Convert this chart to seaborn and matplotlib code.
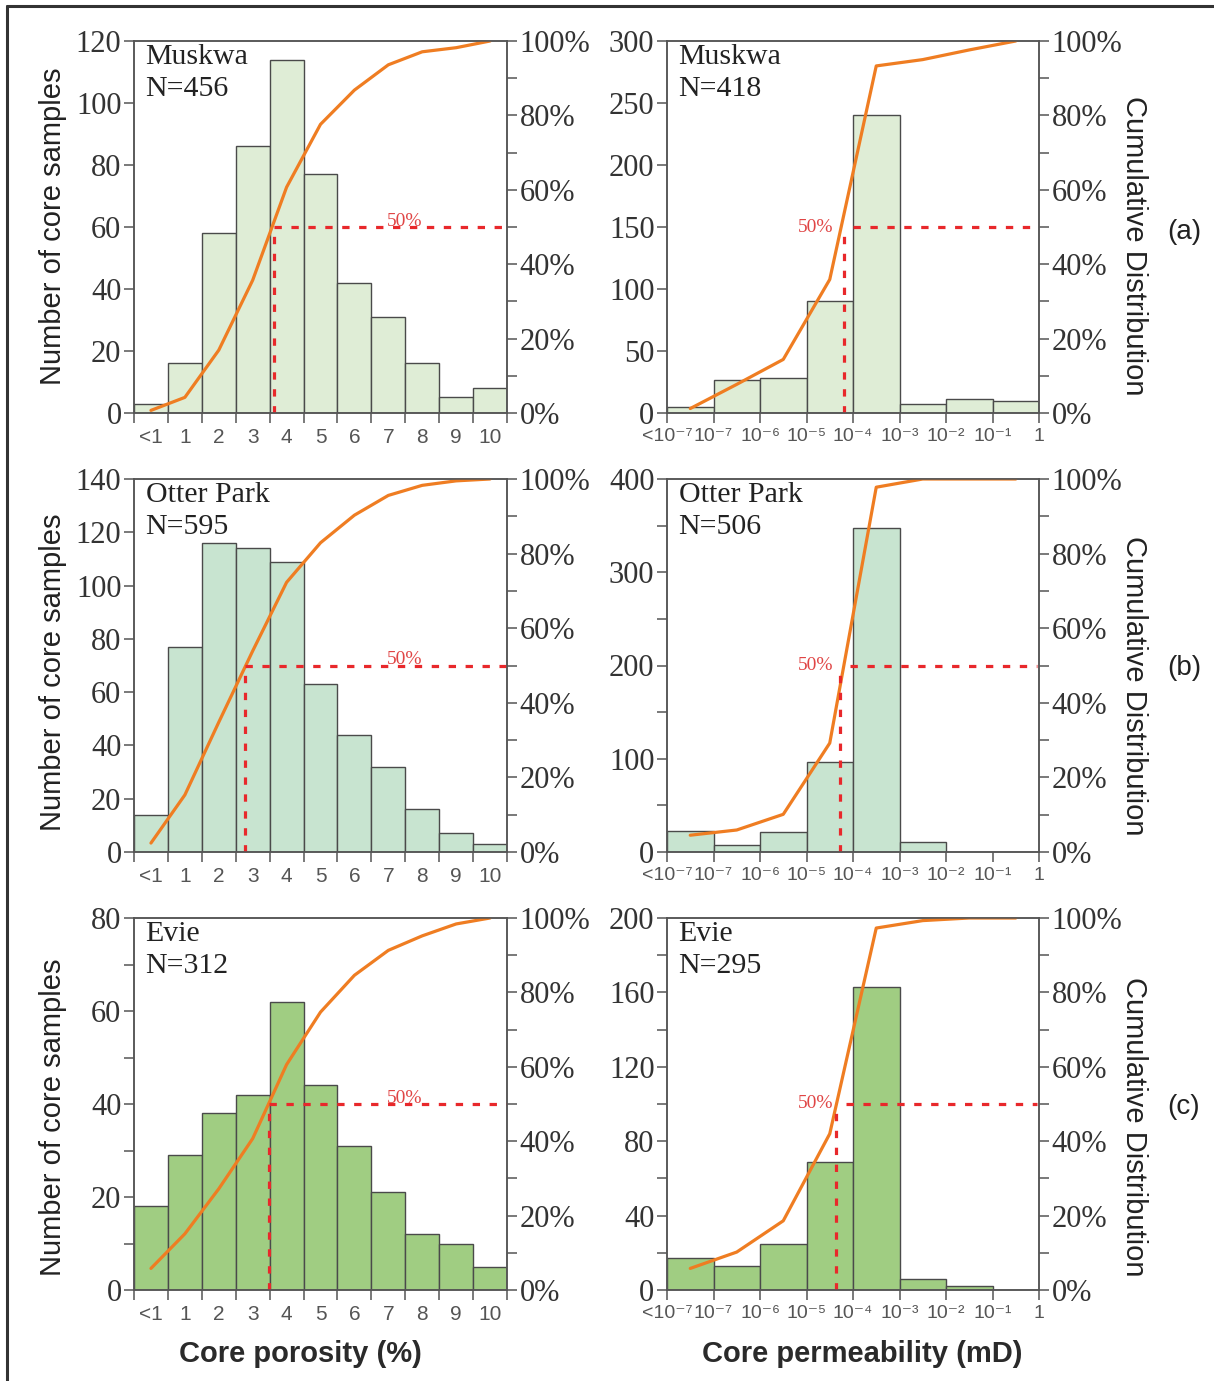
import numpy as np
import matplotlib
matplotlib.use("Agg")
import matplotlib.pyplot as plt
import seaborn as sns
from matplotlib.ticker import MultipleLocator, NullLocator, FuncFormatter
from matplotlib.lines import Line2D

# ---- data ----
por_labels = ["<1", "1", "2", "3", "4", "5", "6", "7", "8", "9", "10"]
perm_labels = ["<10⁻⁷", "10⁻⁷", "10⁻⁶", "10⁻⁵", "10⁻⁴",
               "10⁻³", "10⁻²", "10⁻¹", "1"]
perm_bins = perm_labels[:-1]

muskwa_por = [3, 16, 58, 86, 114, 77, 42, 31, 16, 5, 8]
otter_por = [14, 77, 116, 114, 109, 63, 44, 32, 16, 7, 3]
evie_por = [18, 29, 38, 42, 62, 44, 31, 21, 12, 10, 5]

muskwa_por_cum = [0.7, 4.2, 16.9, 35.7, 60.7, 77.6, 86.8, 93.6, 97.1, 98.2, 100]
otter_por_cum = [2.4, 15.3, 34.8, 53.9, 72.3, 82.9, 90.3, 95.6, 98.3, 99.5, 100]
evie_por_cum = [5.8, 15.1, 27.2, 40.7, 60.6, 74.7, 84.6, 91.3, 95.2, 98.4, 100]

muskwa_perm = [5, 27, 28, 90, 240, 7, 11, 10]
otter_perm = [23, 7, 21, 97, 347, 11, 0, 0]
evie_perm = [17, 13, 25, 69, 163, 6, 2, 0]

muskwa_perm_cum = [1.2, 7.7, 14.4, 35.9, 93.3, 95.0, 97.6, 100]
otter_perm_cum = [4.5, 5.9, 10.1, 29.2, 97.8, 100, 100, 100]
evie_perm_cum = [5.8, 10.2, 18.6, 42.0, 97.3, 99.3, 100, 100]

# 50% crossing positions (bin-index units)
muskwa_por_med = 3.62
otter_por_med = 2.78
evie_por_med = 3.49
muskwa_perm_med = 3.30
otter_perm_med = 3.23
evie_perm_med = 3.14

names = ["Muskwa", "Otter Park", "Evie"]
n_por = [456, 595, 312]
n_perm = [418, 506, 295]

BAR_COLORS = ["#dfedd6", "#c8e4d0", "#a0cd82"]
EDGE = "#4a4a4a"
ORANGE = "#ef7d22"
RED = "#e8282b"
SPINE = "#555555"

sns.set_theme(style="ticks")
plt.rcParams["font.family"] = ["Liberation Serif", "DejaVu Serif"]
sans = ["Liberation Sans", "DejaVu Sans"]

W, H = 1214, 1381
fig = plt.figure(figsize=(W / 100, H / 100), dpi=100)


def rect(x0, x1, y0, y1):
    return [x0 / W, 1 - y1 / H, (x1 - x0) / W, (y1 - y0) / H]


def draw_panel(r, cats, counts, cum, color, label, ymax, major, minor,
               med, kind):
    ax = fig.add_axes(r)
    n = len(cats)
    sns.barplot(x=cats, y=counts, ax=ax, color=color, saturation=1,
                edgecolor=EDGE, linewidth=1.0, width=1.0, errorbar=None)
    ax.set_xlabel("")
    ax.set_ylabel("")
    ax.set_ylim(0, ymax)
    ax.yaxis.set_major_locator(MultipleLocator(major))
    if minor:
        ax.yaxis.set_minor_locator(MultipleLocator(minor))
    else:
        ax.yaxis.set_minor_locator(NullLocator())

    edges = np.arange(n + 1) - 0.5
    if kind == "por":
        ax.set_xticks(edges, labels=[""] * (n + 1))
        ax.set_xticks(np.arange(n), labels=cats, minor=True)
        ax.tick_params(axis="x", which="minor", length=0, pad=11)
        xsize = 15
    else:
        ax.set_xticks(edges, labels=perm_labels)
        ax.tick_params(axis="x", which="major", pad=4)
        xsize = 14
    ax.tick_params(axis="both", which="both", direction="out", length=7,
                   width=1.1, color=SPINE)
    ax.tick_params(axis="x", which="minor", length=0)
    ax.tick_params(axis="x", which="both", labelsize=xsize,
                   labelcolor="#555555")
    for t in ax.get_xticklabels(which="both"):
        t.set_fontfamily(sans)
    ax.tick_params(axis="y", which="both", labelsize=22, labelcolor="#333333",
                   pad=2)

    ax2 = ax.twinx()
    sns.lineplot(x=np.arange(n), y=cum, ax=ax2, color=ORANGE, linewidth=2.3)
    ax2.set_ylim(0, 100)
    ax2.yaxis.set_major_locator(MultipleLocator(20))
    ax2.yaxis.set_minor_locator(MultipleLocator(10))
    ax2.yaxis.set_major_formatter(FuncFormatter(lambda v, p: f"{v:.0f}%"))
    ax2.tick_params(axis="y", which="both", direction="out", length=7,
                    width=1.1, color=SPINE, labelsize=22,
                    labelcolor="#333333", pad=2)
    ax2.set_ylabel("")
    ax.set_xlim(-0.5, n - 0.5)
    ax2.set_xlim(-0.5, n - 0.5)

    dash = dict(color=RED, lw=2.3, dashes=(2.3, 3.0))
    if kind == "por":
        ax2.plot([med, med], [0, 50], **dash)
        ax2.plot([med, n - 0.5], [50, 50], **dash)
        ax2.text(7.47, 50.4, "50%", color="#e04545", fontsize=14,
                 ha="center", va="baseline")
    else:
        ax2.plot([med, med], [0, 48], **dash)
        ax2.plot([med + 0.2, n - 0.55], [50, 50], **dash)
        ax2.text(3.08, 50, "50%", color="#e04545", fontsize=14,
                 ha="right", va="center")

    for a in (ax, ax2):
        for s in a.spines.values():
            s.set_color(SPINE)
            s.set_linewidth(1.1)

    ax.text(0.031, 0.993, label, transform=ax.transAxes, ha="left", va="top",
            fontsize=21.5, color="#222222", linespacing=1.3)
    return ax


rows = [(41, 413), (479, 852), (918, 1290)]
por_sets = [(muskwa_por, muskwa_por_cum, 120, 20, None, muskwa_por_med),
            (otter_por, otter_por_cum, 140, 20, None, otter_por_med),
            (evie_por, evie_por_cum, 80, 20, 10, evie_por_med)]
perm_sets = [(muskwa_perm, muskwa_perm_cum, 300, 50, None, muskwa_perm_med),
             (otter_perm, otter_perm_cum, 400, 100, 50, otter_perm_med),
             (evie_perm, evie_perm_cum, 200, 40, 20, evie_perm_med)]

for i, (y0, y1) in enumerate(rows):
    c, cum, ymax, mj, mn, med = por_sets[i]
    draw_panel(rect(134, 507, y0, y1), por_labels, c, cum, BAR_COLORS[i],
               f"{names[i]}\nN={n_por[i]}", ymax, mj, mn, med, "por")
    c, cum, ymax, mj, mn, med = perm_sets[i]
    draw_panel(rect(667, 1039, y0, y1), perm_bins, c, cum, BAR_COLORS[i],
               f"{names[i]}\nN={n_perm[i]}", ymax, mj, mn, med, "perm")

for yc in (226, 672, 1117):
    fig.text(53 / W, 1 - yc / H, "Number of core samples", rotation=90,
             ha="center", va="center", fontsize=21, family=sans,
             color="#222222")
for yc in (246, 686, 1127):
    fig.text(1134 / W, 1 - yc / H, "Cumulative Distribution", rotation=270,
             ha="center", va="center", fontsize=21, family=sans,
             color="#222222")
for yc, tag in zip((232, 668, 1107), ("(a)", "(b)", "(c)")):
    fig.text(1184 / W, 1 - yc / H, tag, ha="center", va="center",
             fontsize=20, family=sans, color="#222222")

fig.text(300 / W, 1 - 1354 / H, "Core porosity (%)", ha="center",
         va="center", fontsize=21, family=sans, weight="bold",
         color="#2a2a2a")
fig.text(862 / W, 1 - 1354 / H, "Core permeability (mD)", ha="center",
         va="center", fontsize=21, family=sans, weight="bold",
         color="#2a2a2a")

# outer frame (top and left edges)
fig.add_artist(Line2D([6.5 / W, 1], [1 - 6 / H, 1 - 6 / H],
                      transform=fig.transFigure, color="#333333", lw=2.2))
fig.add_artist(Line2D([6.5 / W, 6.5 / W], [0, 1 - 6 / H],
                      transform=fig.transFigure, color="#333333", lw=2.2))

fig.savefig("out.png", dpi=100)
